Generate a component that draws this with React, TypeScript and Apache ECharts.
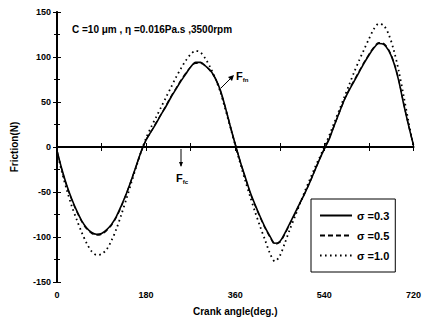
import React, { useEffect, useRef } from "react";
import * as echarts from "echarts";

const ANGLES = Array.from({ length: 73 }, (_, i) => i * 10);
const X_TICKS = [0, 180, 360, 540, 720];
const Y_TICKS = [-150, -100, -50, 0, 50, 100, 150];

const S03 = [
  -4, -25, -43, -58, -71, -82, -90, -95, -97, -96, -92, -86, -77, -65, -52, -37, -21, -5,
  8, 17, 26, 36, 45, 55, 64, 73, 81, 89, 94, 94, 90, 85, 76, 63, 44, 23, 3,
  -16, -33, -50, -64, -77, -89, -99, -107, -105, -96, -85, -74, -63, -52, -40, -27, -14, -2,
  9, 24, 38, 52, 63, 73, 83, 93, 102, 110, 115, 114, 107, 94, 74, 48, 24, 2,
];
const S05 = [
  -4, -26, -44, -59, -72, -83, -91, -96, -98, -97, -93, -87, -78, -66, -52, -37, -21, -5,
  8, 17, 27, 36, 46, 56, 65, 74, 82, 89, 93, 93, 90, 84, 76, 62, 44, 23, 3,
  -16, -34, -51, -65, -78, -90, -100, -108, -106, -97, -86, -75, -63, -52, -40, -27, -14, -2,
  10, 24, 38, 52, 64, 74, 84, 94, 103, 111, 116, 115, 108, 95, 75, 49, 24, 2,
];
const S10 = [
  -5, -28, -48, -66, -81, -95, -107, -116, -120, -119, -114, -104, -91, -75, -58, -40, -22, -5,
  10, 22, 33, 44, 55, 66, 77, 87, 96, 103, 107, 105, 98, 88, 76, 61, 42, 22, 2,
  -18, -37, -55, -72, -88, -103, -118, -127, -121, -107, -92, -78, -64, -50, -37, -24, -12, 0,
  13, 27, 41, 55, 69, 83, 96, 108, 120, 131, 137, 135, 125, 108, 85, 57, 28, 0,
];
const FC_ANGLES = [0, 720];
const FC = [0, 0];

const SERIES_NAMES = ["σ =0.3", "σ =0.5", "σ =1.0"];

const zip = (xs: number[], ys: number[]) => xs.map((x, i) => [x, ys[i]]);

const FONT = "Liberation Sans";

export default function App() {
  const ref = useRef<HTMLDivElement>(null);
  useEffect(() => {
    if (!ref.current) return;
    const chart = echarts.init(ref.current, null, { renderer: "svg" });
    const axisLabel = { color: "#000", fontFamily: FONT, fontWeight: "bold", fontSize: 9 };
    const hidden = { color: "#000", opacity: 0 };
    chart.setOption({
      animation: false,
      backgroundColor: "#fff",
      grid: { left: 57, right: 10, top: 12, bottom: 42, containLabel: false },
      xAxis: [
        {
          type: "value", min: 0, max: 720, interval: 180,
          name: "Crank angle(deg.)", nameLocation: "middle", nameGap: 24,
          nameTextStyle: { color: "#000", fontFamily: FONT, fontWeight: "bold", fontSize: 10 },
          axisLine: { lineStyle: { color: "#000", width: 2 } },
          axisTick: { inside: true, length: 4, lineStyle: { color: "#000", width: 1 } },
          minorTick: { show: true, splitNumber: 2, length: 4, lineStyle: { color: "#000" } },
          axisLabel: { ...axisLabel, margin: 8, formatter: (v: number) => (X_TICKS.includes(v) ? String(v) : "") },
          splitLine: { show: false },
        },
        {
          type: "value", position: "top", min: 0, max: 720, interval: 180,
          axisLine: { show: true, lineStyle: { color: "#000", width: 1.5 } },
          axisTick: { inside: true, length: 4, lineStyle: { color: "#000" } },
          minorTick: { show: true, splitNumber: 2, length: 4, lineStyle: { color: "#000" } },
          axisLabel: { show: false },
          splitLine: { show: false },
        },
      ],
      yAxis: [
        {
          type: "value", min: -150, max: 150, interval: 50,
          name: "Friction(N)", nameLocation: "middle", nameGap: 38,
          nameTextStyle: { color: "#000", fontFamily: FONT, fontWeight: "bold", fontSize: 10 },
          axisLine: { show: true, lineStyle: { color: "#000", width: 2 } },
          axisTick: { inside: true, length: 4, lineStyle: { color: "#000" } },
          minorTick: { show: true, splitNumber: 2, length: 3, lineStyle: { color: "#000" } },
          axisLabel: { ...axisLabel, margin: 6, formatter: (v: number) => (Y_TICKS.includes(v) ? String(v) : "") },
          splitLine: { show: false },
        },
        {
          type: "value", position: "right", min: -150, max: 150, interval: 50,
          axisLine: { show: true, lineStyle: { color: "#000", width: 1.5 } },
          axisTick: { inside: true, length: 4, lineStyle: { color: "#000" } },
          minorTick: { show: true, splitNumber: 2, length: 3, lineStyle: { color: "#000" } },
          axisLabel: { show: false },
          splitLine: { show: false },
        },
      ],
      legend: {
        data: SERIES_NAMES,
        orient: "vertical",
        left: 311, top: 199,
        width: 93,
        padding: [11, 6, 11, 8],
        itemGap: 9,
        itemWidth: 32, itemHeight: 12,
        borderColor: "#000", borderWidth: 1,
        backgroundColor: "#fff",
        itemStyle: { opacity: 0 },
        textStyle: { color: "#000", fontFamily: FONT, fontWeight: "bold", fontSize: 11 },
      },
      series: [
        {
          name: "Ffc", type: "line", data: zip(FC_ANGLES, FC), symbol: "none",
          lineStyle: { color: "#000", width: 1 }, z: 1,
        },
        {
          name: SERIES_NAMES[0], type: "line", data: zip(ANGLES, S03), symbol: "none", smooth: 0.3,
          lineStyle: { color: "#000", width: 1.6, type: "solid" }, itemStyle: hidden,
        },
        {
          name: SERIES_NAMES[1], type: "line", data: zip(ANGLES, S05), symbol: "none", smooth: 0.3,
          lineStyle: { color: "#000", width: 1.3, type: [5, 3] }, itemStyle: hidden,
        },
        {
          name: SERIES_NAMES[2], type: "line", data: zip(ANGLES, S10), symbol: "none", smooth: 0.3,
          lineStyle: { color: "#000", width: 1.8, type: [1.6, 3.4] }, itemStyle: hidden,
        },
      ],
      graphic: [
        {
          type: "text", left: 72, top: 24,
          style: { text: "C =10 μm , η =0.016Pa.s ,3500rpm", fill: "#000", font: `bold 10px "${FONT}"` },
        },
        { type: "line", shape: { x1: 221, y1: 88, x2: 232, y2: 77 }, style: { stroke: "#000", lineWidth: 1 } },
        { type: "polygon", shape: { points: [[234, 75], [228, 77], [232, 81]] }, style: { fill: "#000" } },
        {
          type: "text", left: 236, top: 70,
          style: {
            text: "{a|F}{b|fn}", fill: "#000",
            rich: {
              a: { font: `bold 11px "${FONT}"`, fill: "#000" },
              b: { font: `bold 6px "${FONT}"`, fill: "#000", padding: [8, 0, 0, 0] },
            },
          },
        },
        { type: "line", shape: { x1: 181, y1: 149, x2: 181, y2: 166 }, style: { stroke: "#000", lineWidth: 1 } },
        { type: "polygon", shape: { points: [[181, 167], [179, 162], [183, 162]] }, style: { fill: "#000" } },
        {
          type: "text", left: 176, top: 172,
          style: {
            text: "{a|F}{b|fc}", fill: "#000",
            rich: {
              a: { font: `bold 11px "${FONT}"`, fill: "#000" },
              b: { font: `bold 6px "${FONT}"`, fill: "#000", padding: [8, 0, 0, 0] },
            },
          },
        },
      ],
    });
    return () => chart.dispose();
  }, []);
  return <div ref={ref} style={{ width: 424, height: 324, position: "absolute", left: 0, top: 0 }} />;
}
